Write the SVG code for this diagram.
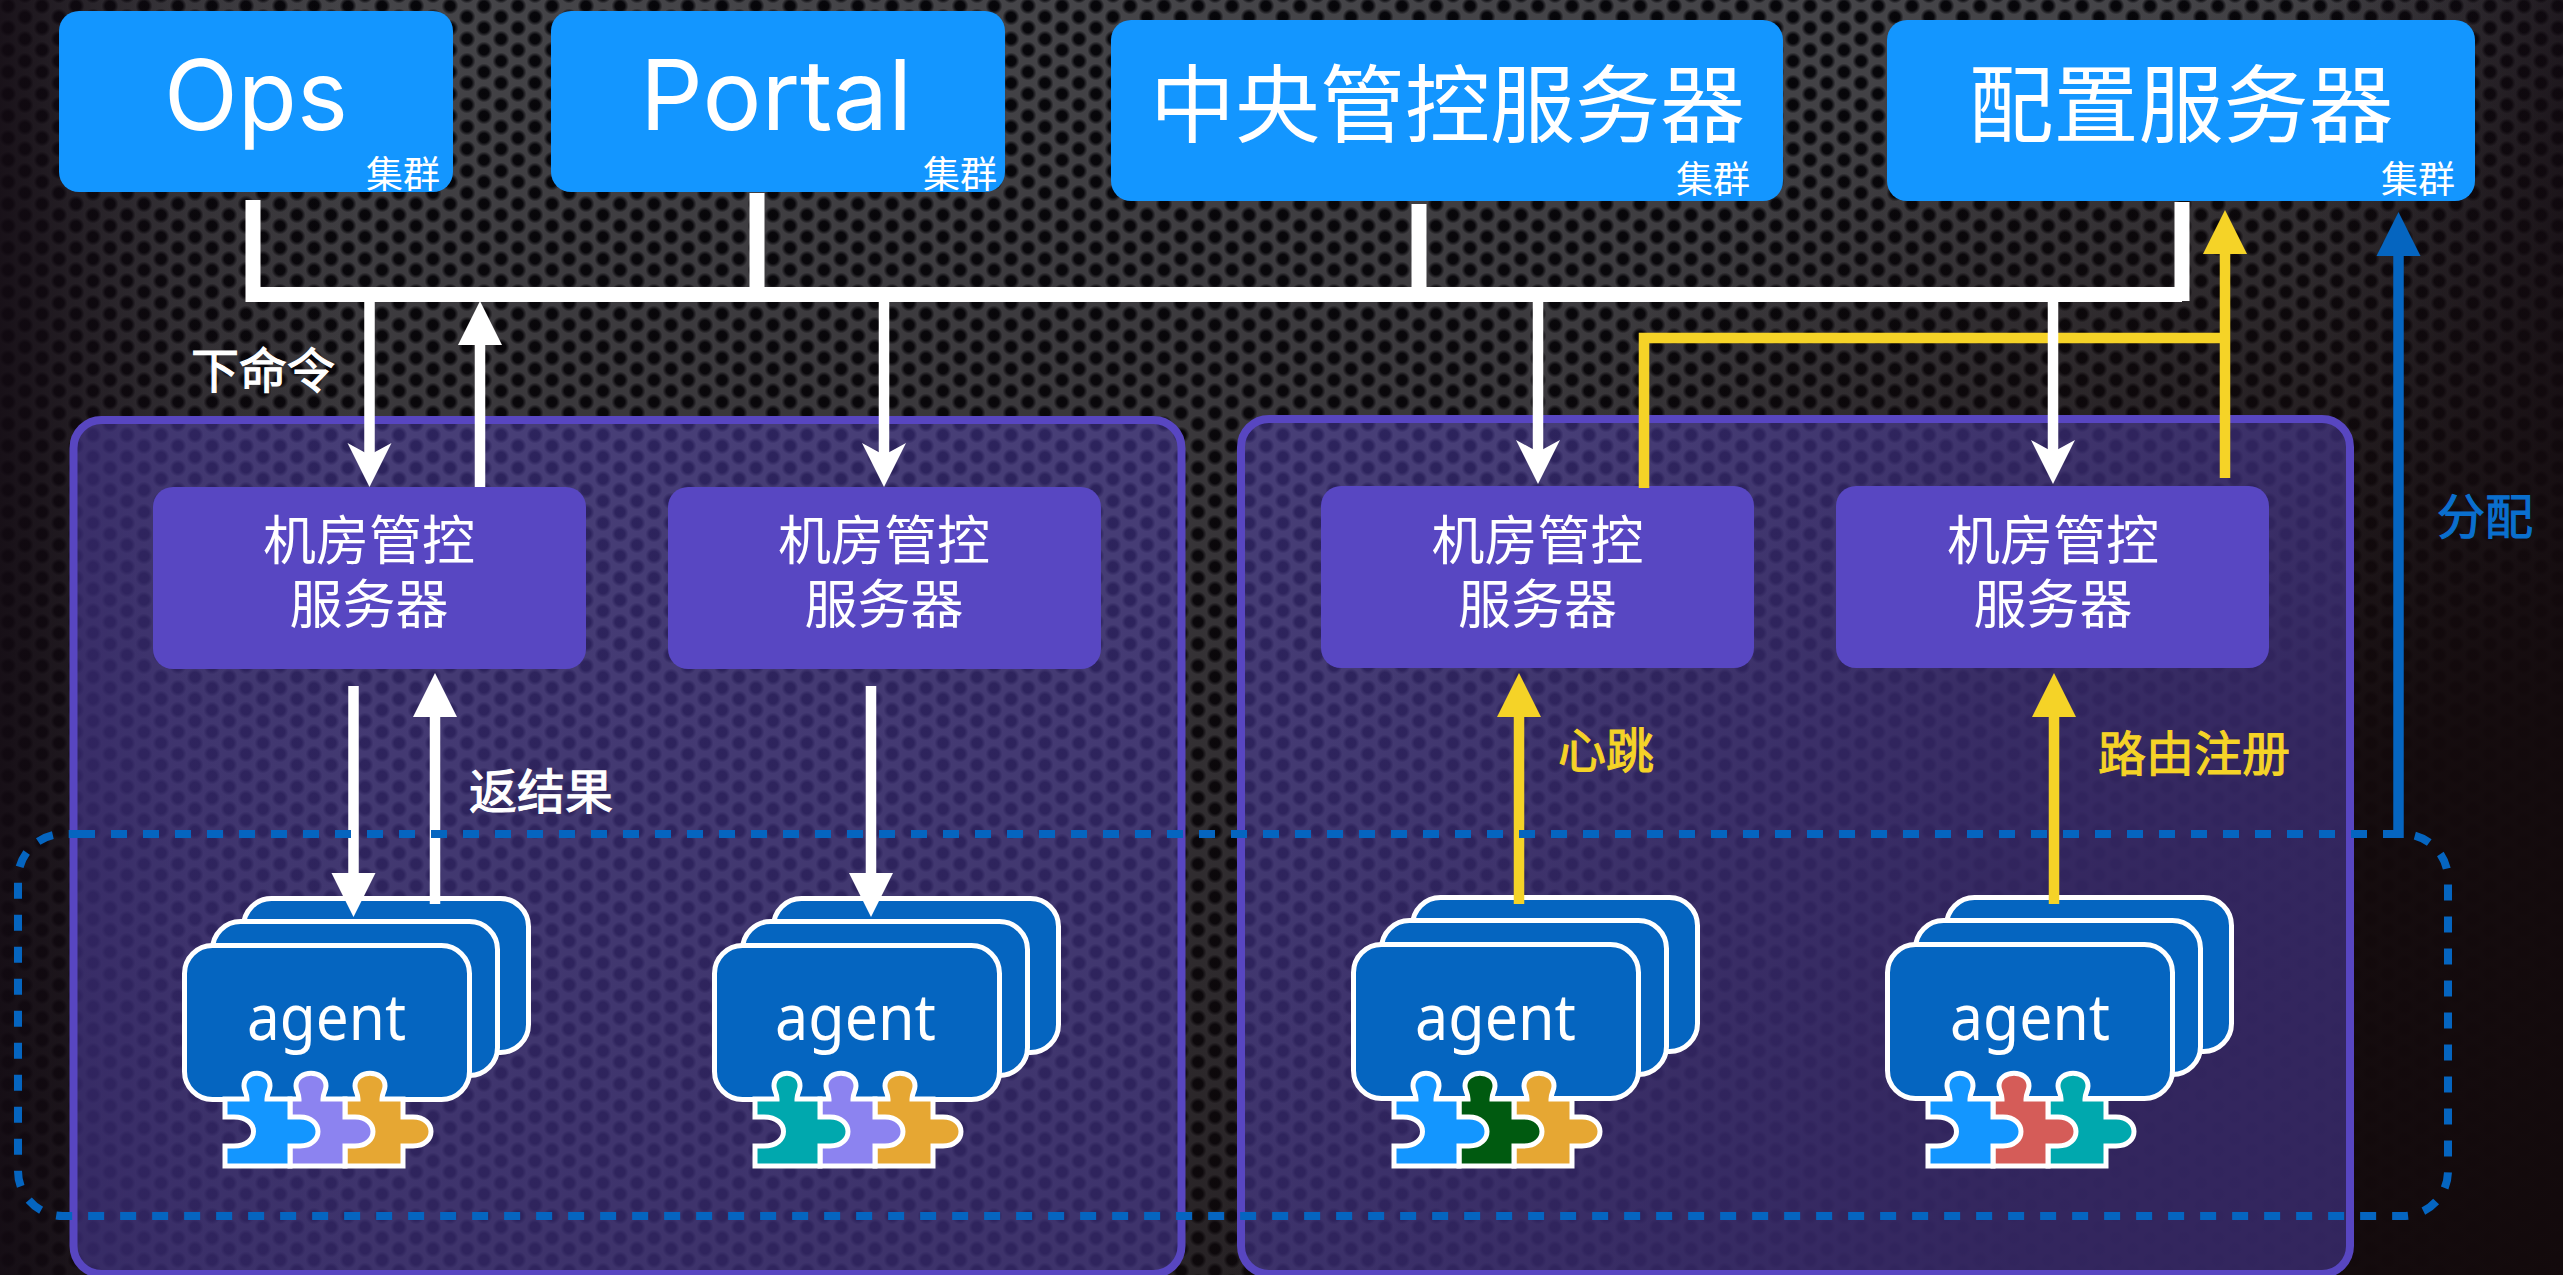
<svg xmlns="http://www.w3.org/2000/svg" xmlns:xlink="http://www.w3.org/1999/xlink" width="2563" height="1275" viewBox="0 0 2563 1275">
<style>
.cjk{font-family:"Noto Sans CJK SC","Noto Sans",sans-serif;fill:#fff}
.lat{font-family:"Inter","Noto Sans",sans-serif;font-weight:400;fill:#fff;font-size:98px}
.ag{font-family:"Noto Sans","Inter",sans-serif;font-weight:400;fill:#fff;font-size:63px}
.top{fill:#1396ff}
.room{fill:#5847c2}
.dc{fill:#5846c1;fill-opacity:.45;stroke:#5846c1;stroke-width:8}
.ag-r{fill:#0565c0;stroke:#fff;stroke-width:5}
.pc{stroke:#fff;stroke-width:5}
.t85{font-size:85px;text-anchor:middle}
.t53{font-size:53px;text-anchor:middle}
.t47{font-size:48px;stroke-width:1.1}
.t36{font-size:37px}
.w{fill:none;stroke:#fff;stroke-width:10.5}
.wb{fill:none;stroke:#fff;stroke-width:15}
.y{fill:none;stroke:#f5d327;stroke-width:10.5}
.b{fill:none;stroke:#0565c0;stroke-width:10.5}
</style>
<defs>
<radialGradient id="hole"><stop offset="0" stop-color="#050508"/><stop offset=".55" stop-color="#07070b"/><stop offset="1" stop-color="#07070b" stop-opacity="0"/></radialGradient>
<pattern id="mesh" width="34" height="22" patternUnits="userSpaceOnUse">
<rect width="34" height="22" fill="#47474b"/>
<circle cx="8" cy="6" r="8.500" fill="url(#hole)"/>
<circle cx="25" cy="17" r="8.500" fill="url(#hole)"/>
<circle cx="42" cy="6" r="8.500" fill="url(#hole)"/>
<circle cx="-9" cy="17" r="8.500" fill="url(#hole)"/>
<circle cx="8" cy="28" r="8.500" fill="url(#hole)"/>
<circle cx="25" cy="-5" r="8.500" fill="url(#hole)"/>
</pattern>
<linearGradient id="ov" x1="0" y1="0" x2="0" y2="1"><stop offset="0" stop-color="#120a0c" stop-opacity=".05"/><stop offset=".4" stop-color="#120a0c" stop-opacity=".3"/><stop offset="1" stop-color="#120a0c" stop-opacity=".6"/></linearGradient>
<linearGradient id="oh" x1="0" y1="0" x2="1" y2="0"><stop offset="0" stop-color="#120a12" stop-opacity=".85"/><stop offset=".07" stop-color="#120a12" stop-opacity=".25"/><stop offset=".14" stop-color="#120a12" stop-opacity="0"/><stop offset=".9" stop-color="#120a12" stop-opacity="0"/><stop offset="1" stop-color="#120a12" stop-opacity=".7"/></linearGradient>
<radialGradient id="or" gradientUnits="userSpaceOnUse" cx="2563" cy="1275" r="1350"><stop offset="0" stop-color="#130a0c" stop-opacity=".97"/><stop offset=".4" stop-color="#130a0c" stop-opacity=".92"/><stop offset="1" stop-color="#130a0c" stop-opacity="0"/></radialGradient>
<marker id="mw" markerUnits="userSpaceOnUse" markerWidth="46" markerHeight="46" refX="12" refY="23" orient="auto"><path d="M0 1L44 23L0 45L12 23z" fill="#fff"/></marker>
<marker id="mf" markerUnits="userSpaceOnUse" markerWidth="46" markerHeight="46" refX="0" refY="23" orient="auto"><path d="M0 1L44 23L0 45z" fill="#fff"/></marker>
<marker id="my" markerUnits="userSpaceOnUse" markerWidth="46" markerHeight="46" refX="0" refY="23" orient="auto"><path d="M0 1L44 23L0 45z" fill="#f5d327"/></marker>
<marker id="mb" markerUnits="userSpaceOnUse" markerWidth="46" markerHeight="46" refX="0" refY="23" orient="auto"><path d="M0 1L44 23L0 45z" fill="#0565c0"/></marker>
<g id="cards">
<rect class="ag-r" x="61.500" y="-44.500" width="285" height="154" rx="28"/>
<rect class="ag-r" x="30.500" y="-21.500" width="285" height="154" rx="28"/>
<rect class="ag-r" x="2.500" y="2.500" width="285" height="154" rx="28"/>
</g>
<path id="p1" d="M0 0H22C22-6 19-8 19-13C19-30 45-30 45-13C45-8 42-6 42 0H65V18H75C99 18 99 47 75 47H65V67H0V47H9C35 47 35 18 9 18H0Z"/>
<path id="p2" d="M65 0H74C74-6 71-8 71-13C71-30 101-30 101-13C101-8 98-6 98 0H120V18H130C154 18 154 47 130 47H120V67H65Z"/>
<path id="p3" d="M120 0H133C133-6 130-8 130-13C130-30 160-30 160-13C160-8 157-6 157 0H178V18H188C212 18 212 47 188 47H178V67H120Z"/>
</defs>
<g id="background">
<rect width="2563" height="1275" fill="url(#mesh)"/>
<rect width="2563" height="1275" fill="url(#ov)"/>
<rect width="2563" height="1275" fill="url(#oh)"/>
<rect width="2563" height="1275" fill="url(#or)"/>
</g>
<g id="dc-left"><rect class="dc" x="73.500" y="420" width="1108" height="854" rx="28"/></g>
<g id="dc-right"><rect class="dc" x="1241" y="419" width="1109" height="855" rx="28"/></g>

<g id="ops"><rect class="top" x="59" y="11" width="394" height="181" rx="20"/>
<text class="lat" x="164" y="130" textLength="184" lengthAdjust="spacingAndGlyphs">Ops</text>
<text class="cjk t36" x="366" y="188">集群</text></g>
<g id="portal"><rect class="top" x="551" y="11" width="454" height="181" rx="20"/>
<text class="lat" x="640" y="130" textLength="272" lengthAdjust="spacingAndGlyphs">Portal</text>
<text class="cjk t36" x="923" y="188">集群</text></g>
<g id="central"><rect class="top" x="1111" y="20" width="672" height="181" rx="20"/>
<text class="cjk t85" x="1447.500" y="136">中央管控服务器</text>
<text class="cjk t36" x="1676" y="193">集群</text></g>
<g id="config"><rect class="top" x="1887" y="20" width="588" height="181" rx="20"/>
<text class="cjk t85" x="2181" y="136">配置服务器</text>
<text class="cjk t36" x="2381" y="193">集群</text></g>

<g id="room1"><rect class="room" x="153" y="487" width="433" height="182" rx="20"/>
<text class="cjk t53" x="369" y="560">机房管控</text><text class="cjk t53" x="369" y="624">服务器</text></g>
<g id="room2"><rect class="room" x="668" y="487" width="433" height="182" rx="20"/>
<text class="cjk t53" x="884" y="560">机房管控</text><text class="cjk t53" x="884" y="624">服务器</text></g>
<g id="room3"><rect class="room" x="1321" y="486" width="433" height="182" rx="20"/>
<text class="cjk t53" x="1537.500" y="560">机房管控</text><text class="cjk t53" x="1537.500" y="624">服务器</text></g>
<g id="room4"><rect class="room" x="1836" y="486" width="433" height="182" rx="20"/>
<text class="cjk t53" x="2053" y="560">机房管控</text><text class="cjk t53" x="2053" y="624">服务器</text></g>

<g id="agent1" transform="translate(182 943)"><use href="#cards"/>
<text class="ag" x="65" y="97" textLength="159" lengthAdjust="spacingAndGlyphs">agent</text>
<g transform="translate(43 156)"><use href="#p3" class="pc" fill="#e6a733"/><use href="#p2" class="pc" fill="#8c83f0"/><use href="#p1" class="pc" fill="#1396ff"/></g></g>
<g id="agent2" transform="translate(712 943)"><use href="#cards"/>
<text class="ag" x="63" y="97" textLength="161" lengthAdjust="spacingAndGlyphs">agent</text>
<g transform="translate(43 156)"><use href="#p3" class="pc" fill="#e6a733"/><use href="#p2" class="pc" fill="#8c83f0"/><use href="#p1" class="pc" fill="#00a8ae"/></g></g>
<g id="agent3" transform="translate(1351 942)"><use href="#cards"/>
<text class="ag" x="64" y="98" textLength="161" lengthAdjust="spacingAndGlyphs">agent</text>
<g transform="translate(43 157)"><use href="#p3" class="pc" fill="#e6a733"/><use href="#p2" class="pc" fill="#005a10"/><use href="#p1" class="pc" fill="#1396ff"/></g></g>
<g id="agent4" transform="translate(1885 942)"><use href="#cards"/>
<text class="ag" x="65" y="98" textLength="160" lengthAdjust="spacingAndGlyphs">agent</text>
<g transform="translate(43 157)"><use href="#p3" class="pc" fill="#00a8ae"/><use href="#p2" class="pc" fill="#d55c58"/><use href="#p1" class="pc" fill="#1396ff"/></g></g>

<g id="connectors">
<path class="y" d="M1644 488V338H2225"/>
<path class="y" d="M2225 478V254" marker-end="url(#my)"/>
<path class="wb" d="M253 200V294.500H2182"/>
<path class="wb" d="M757 193V290M1419 204V290"/>
<path class="wb" d="M2182 202V301"/>
<path class="w" d="M369.500 301V455" marker-end="url(#mw)"/>
<path class="w" d="M884 301V455" marker-end="url(#mw)"/>
<path class="w" d="M1538 301V452" marker-end="url(#mw)"/>
<path class="w" d="M2053 301V452" marker-end="url(#mw)"/>
<path class="w" d="M480 487V345" marker-end="url(#mf)"/>
<path class="w" d="M353.500 686V873" marker-end="url(#mf)"/>
<path class="w" d="M871 686V873" marker-end="url(#mf)"/>
<path class="w" d="M435 904V717" marker-end="url(#mf)"/>
<path class="y" d="M1519 904V717" marker-end="url(#my)"/>
<path class="y" d="M2054 904V717" marker-end="url(#my)"/>
<path class="b" d="M2398.500 838V256" marker-end="url(#mb)"/>
<path d="M79 834H2403A45 45 0 0 1 2448 879V1171A45 45 0 0 1 2403 1216H63A45 45 0 0 1 18 1171V879A45 45 0 0 1 63 834H79" fill="none" stroke="#0565c0" stroke-width="8" stroke-dasharray="16 16"/>
</g>
<g id="labels">
<text class="cjk t47" stroke="#fff" x="191" y="388">下命令</text>
<text class="cjk t47" stroke="#fff" x="469" y="809">返结果</text>
<text class="cjk t47" stroke="#f5d327" style="fill:#f5d327" x="1558" y="768">心跳</text>
<text class="cjk t47" stroke="#f5d327" style="fill:#f5d327" x="2098" y="771">路由注册</text>
<text class="cjk t47" stroke="#0a6fce" style="fill:#0a6fce" x="2437" y="534">分配</text>
</g>
</svg>
